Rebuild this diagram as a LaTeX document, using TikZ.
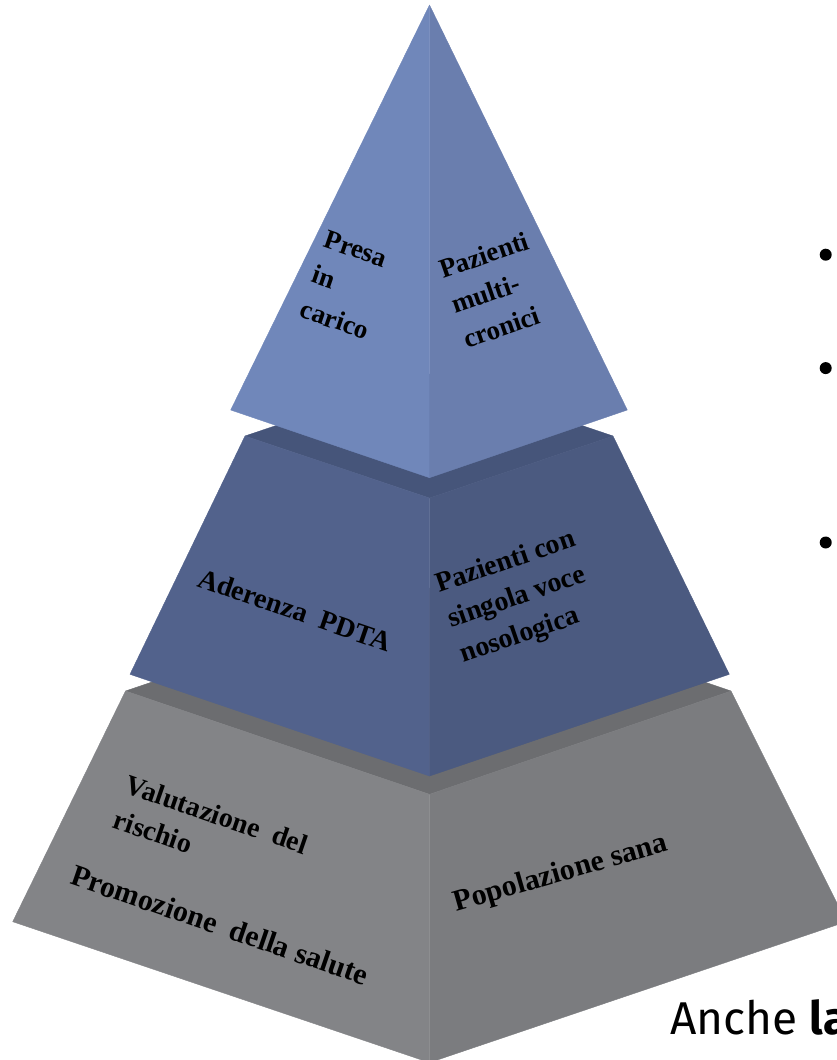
\documentclass[tikz,border=0pt]{standalone}
\usepackage{fontspec}
\setmainfont{Liberation Serif}
\newfontfamily\firafont{Fira Sans}
\usepackage{xcolor}
\usepackage{tikz}
\usetikzlibrary{positioning, calc}
\definecolor{apexL}{HTML}{7087BA}
\definecolor{apexR}{HTML}{6A7EAE}
\definecolor{midTop}{HTML}{46557A}
\definecolor{midL}{HTML}{52628C}
\definecolor{midR}{HTML}{4B5A80}
\definecolor{baseTop}{HTML}{6C6D70}
\definecolor{baseL}{HTML}{838487}
\definecolor{baseR}{HTML}{7B7C7F}
\tikzset{
  facelbl/.style={font=\bfseries\fontsize{28}{37}\selectfont,align=left,
    inner sep=0pt,text=black},
  leftlbl/.style={facelbl,rotate=-19},
  rightlbl/.style={facelbl,rotate=19},
  bigger/.style={font=\bfseries\fontsize{30}{37}\selectfont},
  bullet/.style={circle,fill=black,inner sep=0pt,minimum size=12pt},
  face/.style={line width=0.4pt,line join=round}
}

\begin{document}
\begin{tikzpicture}[x=1pt,y=-1pt]
  \useasboundingbox (0,0) rectangle (837,1060);

  % base tier
  \coordinate (botB) at (429.5,588);
  \coordinate (botL) at (125.5,691);
  \coordinate (botR) at (731,691);
  \coordinate (botF) at (429.5,794.3);
  \coordinate (botLd) at (12.7,921.7);
  \coordinate (botRd) at (846.3,921.7);
  \coordinate (botFd) at (429.5,1062.6);
  \filldraw[face,fill=baseTop,draw=baseTop] (botL) -- (botB) -- (botR) -- (botF) -- cycle;
  \filldraw[face,fill=baseR,draw=baseR] (botF) -- (botR) -- (botRd) -- (botFd) -- cycle;
  \filldraw[face,fill=baseL,draw=baseL] (botL) -- (botF) -- (botFd) -- (botLd) -- cycle;

  % middle tier
  \coordinate (midB) at (429.5,374);
  \coordinate (midL) at (245,436);
  \coordinate (midR) at (613,436);
  \coordinate (midF) at (429.5,498);
  \coordinate (midLd) at (130,674.3);
  \coordinate (midRd) at (729.3,674.3);
  \coordinate (midFd) at (429.5,776);
  \filldraw[face,fill=midTop,draw=midTop] (midL) -- (midB) -- (midR) -- (midF) -- cycle;
  \filldraw[face,fill=midR,draw=midR] (midF) -- (midR) -- (midRd) -- (midFd) -- cycle;
  \filldraw[face,fill=midL,draw=midL] (midL) -- (midF) -- (midFd) -- (midLd) -- cycle;

  % apex
  \coordinate (apex) at (429.5,5);
  \coordinate (apL) at (230.7,410);
  \coordinate (apR) at (627.3,410);
  \coordinate (apF) at (429.5,477.7);
  \filldraw[face,fill=apexR,draw=apexR] (apex) -- (apF) -- (apR) -- cycle;
  \filldraw[face,fill=apexL,draw=apexL] (apex) -- (apL) -- (apF) -- cycle;

  % labels on the faces
  \node[leftlbl,font=\bfseries\fontsize{27}{37}\selectfont] (presa) at (347,285) {Presa\\in\\carico};
  \node[rightlbl,font=\bfseries\fontsize{27}{37}\selectfont] (multi) at (496,290) {Pazienti\\multi-\\cronici};
  \node[leftlbl] (pdta) at (295,610) {Aderenza\ \ PDTA};
  \node[rightlbl] (singola) at (518,598) {Pazienti con\\singola voce\\nosologica};
  \node[leftlbl] (rischio) at (211,832) {Valutazione\ \ del\\rischio};
  \node[leftlbl,bigger] (salute) at (220,925) {Promozione\ \ della salute};
  \node[rightlbl,bigger,rotate=-3] (sana) at (561,874) {Popolazione sana};

  % list on the right
  \node[bullet] (bul1) at (825.7,254.7) {};
  \node[bullet, below=101pt of bul1] (bul2) {};
  \node[bullet, below=162pt of bul2] (bul3) {};
  \node[font=\firafont\fontsize{46}{50}\selectfont,anchor=base west,inner sep=0pt]
    (anche) at (670,1034) {Anche \textbf{la}};
\end{tikzpicture}
\end{document}
